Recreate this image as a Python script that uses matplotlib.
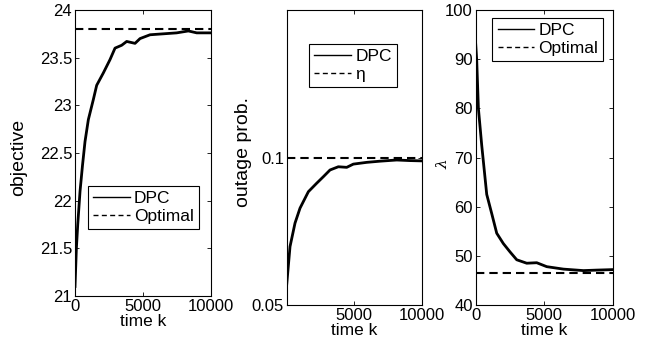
import matplotlib
matplotlib.use('Agg')
import matplotlib.pyplot as plt

plt.rcParams['font.family'] = ['Liberation Sans', 'DejaVu Sans']
plt.rcParams['mathtext.fontset'] = 'dejavuserif'

# objective vs time
k_obj = [0, 100, 200, 370, 550, 735, 980, 1346, 1593, 2083, 2574, 2941, 3431,
         3799, 4412, 4779, 5515, 6495, 7476, 8333, 8946, 10000]
obj = [21.1, 21.5, 21.75, 22.1, 22.37, 22.62, 22.85, 23.06, 23.21, 23.34,
       23.48, 23.60, 23.63, 23.67, 23.65, 23.70, 23.74, 23.75, 23.76, 23.78, 23.76,
       23.76]
obj_opt = 23.8

# outage probability vs time
k_out = [0, 244, 613, 983, 1600, 2217, 2705, 3200, 3814, 4435, 4922, 5913, 6896,
         8130, 9113, 10000]
outage = [0.057, 0.0699, 0.0779, 0.0830, 0.0886, 0.0915, 0.0937, 0.0960, 0.0971,
          0.0969, 0.0980, 0.0986, 0.0990, 0.0994, 0.0992, 0.0991]
eta = 0.1

# lambda vs time
k_lam = [0, 73, 195, 438, 803, 1168, 1533, 2015, 2504, 2993, 3723, 4453, 5182,
         6400, 7860, 8832, 10000]
lam = [93.0, 89.8, 80.0, 72.5, 62.5, 58.6, 54.6, 52.5, 50.8, 49.2, 48.5, 48.6,
       47.8, 47.3, 47.0, 47.1, 47.2]
lam_opt = 46.6

fig = plt.figure(figsize=(6.54, 3.54), dpi=100)
ax1 = fig.add_axes([0.1147, 0.1638, 0.208, 0.808])
ax2 = fig.add_axes([0.4384, 0.1384, 0.2069, 0.8333])
ax3 = fig.add_axes([0.7274, 0.1384, 0.2095, 0.8333])

DASH = (0, (4, 2.4))


def style(ax):
    ax.tick_params(direction='in', top=True, right=True, length=3, width=0.6,
                   labelsize=12, pad=2)
    for s in ax.spines.values():
        s.set_linewidth(0.8)
    ax.set_xlabel('time k', fontsize=12.5, labelpad=0)


def add_legend(ax, labels, center):
    leg = ax.legend(labels, loc='center', bbox_to_anchor=center, fontsize=12.5,
                    fancybox=False, framealpha=1, handlelength=2.1,
                    handletextpad=0.25, borderpad=0.3, labelspacing=0.15,
                    borderaxespad=0)
    leg.get_frame().set_edgecolor('black')
    leg.get_frame().set_linewidth(0.8)
    for l in leg.get_lines():
        l.set_linewidth(1.0)
    lines = leg.get_lines()
    lines[1].set_linestyle((0, (3.6, 2.4)))
    return leg


ax1.plot(k_obj, obj, color='black', lw=2)
ax1.axhline(obj_opt, color='black', lw=1.5, ls=DASH)
ax1.set_xlim(0, 10000)
ax1.set_ylim(21, 24)
ax1.set_xticks([0, 5000, 10000])
ax1.set_yticks([21, 21.5, 22, 22.5, 23, 23.5, 24])
ax1.set_yticklabels(['21', '21.5', '22', '22.5', '23', '23.5', '24'])
ax1.set_ylabel('objective', fontsize=14)
ax1.yaxis.set_label_coords(-0.353, 0.486)
style(ax1)
add_legend(ax1, ['DPC', 'Optimal'], (0.504, 0.309))

ax2.plot(k_out, outage, color='black', lw=2)
ax2.axhline(eta, color='black', lw=1.5, ls=DASH)
ax2.set_xlim(0, 10000)
ax2.set_ylim(0.05, 0.1505)
ax2.set_xticks([5000, 10000])
ax2.set_yticks([0.05, 0.1])
ax2.set_yticklabels(['0.05', '0.1'])
ax2.set_ylabel('outage prob.', fontsize=14)
ax2.yaxis.set_label_coords(-0.256, 0.517)
style(ax2)
add_legend(ax2, ['DPC', 'η'], (0.49, 0.812))

ax3.plot(k_lam, lam, color='black', lw=2)
ax3.axhline(lam_opt, color='black', lw=1.5, ls=DASH)
ax3.set_xlim(0, 10000)
ax3.set_ylim(40, 100)
ax3.set_xticks([0, 5000, 10000])
ax3.set_yticks([40, 50, 60, 70, 80, 90, 100])
ax3.set_ylabel(r'$\lambda$', fontsize=11)
ax3.yaxis.set_label_coords(-0.188, 0.481)
style(ax3)
add_legend(ax3, ['DPC', 'Optimal'], (0.527, 0.9))

plt.savefig('out.png', dpi=100)
plt.close()
